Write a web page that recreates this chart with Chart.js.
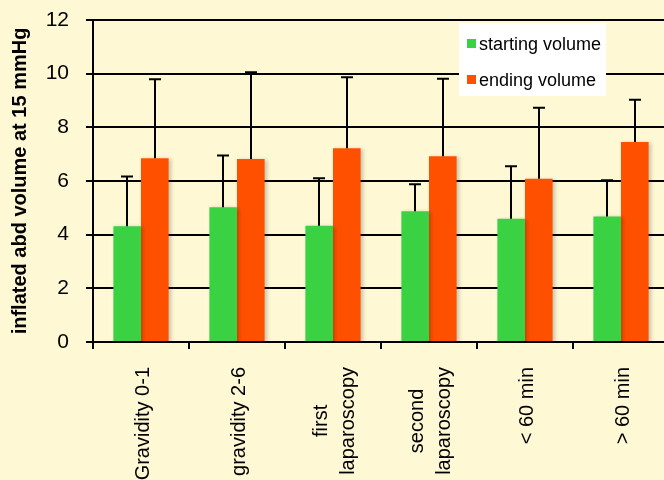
<!DOCTYPE html>
<html>
<head>
<meta charset="utf-8">
<script src="https://cdn.jsdelivr.net/npm/chart.js@4/dist/chart.umd.min.js"></script>
<style>
  html, body { margin: 0; padding: 0; overflow: hidden; background: #FFF8D5; }
  #wrap { width: 664px; height: 480px; overflow: hidden; }
  canvas { display: block; }
</style>
</head>
<body>
<div id="wrap"><canvas id="c" width="672" height="480"></canvas></div>
<script>
// Groups along the x axis (multi-line labels as arrays)
const categories = [
  'Gravidity 0-1',
  'gravidity 2-6',
  ['first', 'laparoscopy'],
  ['second', 'laparoscopy'],
  '< 60 min',
  '> 60 min'
];

// Mean inflated abdominal volume at 15 mmHg
const startingVolume = [4.31, 5.02, 4.33, 4.87, 4.59, 4.68];
const endingVolume   = [6.85, 6.82, 7.22, 6.92, 6.08, 7.45];

// Standard deviations, drawn as upward error bars
const startingSD = [1.86, 1.93, 1.77, 1.01, 1.96, 1.35];
const endingSD   = [2.94, 3.23, 2.65, 2.89, 2.65, 1.58];

const yTicks = [0, 2, 4, 6, 8, 10, 12];

const FONT = '"Liberation Sans", Arial, Helvetica, sans-serif';
const GREEN = '#3AD243';
const ORANGE = '#FF5000';
const X_FONT_SIZE = 20;
const X_LINE_HEIGHT = 1.35;

// Soft drop shadow under the bars
const barShadow = {
  id: 'barShadow',
  beforeDatasetsDraw(chart) {
    const ctx = chart.ctx;
    ctx.save();
    ctx.shadowColor = 'rgba(0,0,0,0.22)';
    ctx.shadowBlur = 4;
    ctx.shadowOffsetX = 2;
    ctx.shadowOffsetY = 1;
  },
  afterDatasetsDraw(chart) {
    chart.ctx.restore();
  }
};

// One-sided (upper) error bars with caps
const errorBars = {
  id: 'errorBars',
  afterDatasetsDraw(chart) {
    const ctx = chart.ctx;
    const yScale = chart.scales.y;
    ctx.save();
    ctx.strokeStyle = '#000';
    ctx.lineWidth = 2;
    chart.data.datasets.forEach((ds, i) => {
      const meta = chart.getDatasetMeta(i);
      meta.data.forEach((bar, j) => {
        const top = yScale.getPixelForValue(ds.data[j] + ds.sd[j]);
        const x = Math.round(bar.x);
        ctx.beginPath();
        ctx.moveTo(x, bar.y);
        ctx.lineTo(x, top);
        ctx.moveTo(x - 6, top);
        ctx.lineTo(x + 6, top);
        ctx.stroke();
      });
    });
    ctx.restore();
  }
};

// Rotated category labels: center each multi-line block on its tick
// and center the lines against each other
const centeredLabels = {
  id: 'centeredLabels',
  beforeDraw(chart) {
    const scale = chart.scales.x;
    const items = scale.getLabelItems();
    const ctx = chart.ctx;
    const lh = X_FONT_SIZE * X_LINE_HEIGHT;
    ctx.save();
    ctx.font = X_FONT_SIZE + 'px ' + FONT;
    items.forEach(item => {
      if (item._centered) return;
      item._centered = true;
      const lines = Array.isArray(item.label) ? item.label : [item.label];
      const t = item.options.translation;
      t[0] += 2 - (lines.length - 1) * lh / 2;
      if (lines.length > 1) {
        const maxW = Math.max(...lines.map(s => ctx.measureText(s).width));
        item.options.textAlign = 'center';
        t[1] += maxW / 2;
      }
    });
    ctx.restore();
  }
};

// Boxed legend inside the plot area, top right
const boxLegend = {
  id: 'boxLegend',
  afterDraw(chart) {
    const ctx = chart.ctx;
    const left = 459, top = 23, w = 147, h = 73;
    ctx.save();
    ctx.fillStyle = '#FFFFFF';
    ctx.fillRect(left, top, w, h);
    ctx.font = '18px ' + FONT;
    ctx.textBaseline = 'middle';
    ctx.textAlign = 'left';
    chart.data.datasets.forEach((ds, i) => {
      const cy = top + 22 + i * 36;
      ctx.fillStyle = ds.backgroundColor;
      ctx.fillRect(left + 8, cy - 6, 9, 9);
      ctx.fillStyle = '#000';
      ctx.fillText(ds.label, left + 20, cy);
    });
    ctx.restore();
  }
};

new Chart(document.getElementById('c'), {
  type: 'bar',
  data: {
    labels: categories,
    datasets: [
      { label: 'starting volume', data: startingVolume, sd: startingSD, backgroundColor: GREEN },
      { label: 'ending volume', data: endingVolume, sd: endingSD, backgroundColor: ORANGE }
    ]
  },
  options: {
    responsive: false,
    animation: false,
    devicePixelRatio: 1,
    layout: { padding: { top: 20, right: 3, left: 0, bottom: 0 } },
    datasets: { bar: { categoryPercentage: 0.575, barPercentage: 1.0 } },
    plugins: {
      legend: { display: false },
      tooltip: { enabled: false }
    },
    scales: {
      x: {
        afterFit(scale) { scale.height = 138; },
        border: { display: true, color: '#000', width: 2 },
        grid: { display: true, drawOnChartArea: false, drawTicks: true, tickLength: 7, color: '#000', lineWidth: 2, offset: true },
        ticks: {
          autoSkip: false,
          minRotation: 90,
          maxRotation: 90,
          padding: 18,
          color: '#000',
          font: { family: FONT, size: X_FONT_SIZE, lineHeight: X_LINE_HEIGHT }
        }
      },
      y: {
        min: 0,
        max: 12,
        afterFit(scale) {
          scale.width = 93;
          scale.paddingTop = 0;
          scale.paddingBottom = 0;
        },
        afterBuildTicks(scale) { scale.ticks = yTicks.map(v => ({ value: v })); },
        border: { display: true, color: '#000', width: 2 },
        grid: { color: '#000', lineWidth: 2, tickLength: 7, drawTicks: true },
        ticks: {
          padding: 17,
          color: '#000',
          font: { family: FONT, size: 21 }
        },
        title: {
          display: true,
          text: 'inflated abd volume at 15 mmHg',
          color: '#000',
          padding: { top: 8, bottom: 0 },
          font: { family: FONT, size: 20, weight: 'bold' }
        }
      }
    }
  },
  plugins: [barShadow, errorBars, centeredLabels, boxLegend]
});
</script>
</body>
</html>
